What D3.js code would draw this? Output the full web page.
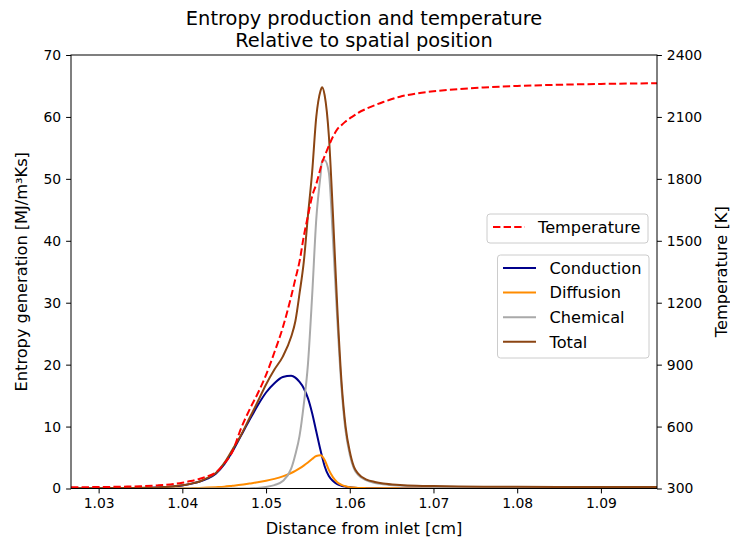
<!DOCTYPE html>
<html>
<head>
<meta charset="utf-8">
<script src="https://cdn.jsdelivr.net/npm/d3@7"></script>
<style>
  html, body { margin: 0; padding: 0; background: #fff; }
  svg text { font-family: "DejaVu Sans", sans-serif; fill: #000; }
</style>
</head>
<body>
<svg id="chart" width="730" height="539"></svg>
<script>
// Position along the reactor [cm]
const position = [1.0267, 1.030, 1.033, 1.035, 1.037, 1.039, 1.040, 1.041, 1.042, 1.043,
  1.044, 1.045, 1.046, 1.047, 1.048, 1.049, 1.050, 1.051, 1.052, 1.053,
  1.0535, 1.054, 1.0545, 1.055, 1.0555, 1.056, 1.0565, 1.0567, 1.057, 1.0575,
  1.058, 1.0585, 1.059, 1.0595, 1.060, 1.0605, 1.061, 1.062, 1.063, 1.064,
  1.066, 1.068, 1.070, 1.073, 1.076, 1.080, 1.085, 1.090, 1.0967];

// Entropy generation contributions [MJ/m³Ks]
const conduction = [0.02, 0.03, 0.05, 0.08, 0.15, 0.33, 0.5, 0.75, 1.1, 1.6,
  2.4, 3.9, 6.0, 8.5, 11.0, 13.4, 15.5, 17.0, 18.0, 18.2,
  17.9, 17.2, 16.2, 14.6, 12.2, 9.2, 6.2, 5.1, 3.6, 2.0,
  1.2, 0.7, 0.45, 0.3, 0.2, 0.13, 0.09, 0.05, 0.03, 0.02,
  0.01, 0.01, 0.0, 0.0, 0.0, 0.0, 0.0, 0.0, 0.0];

const diffusion = [0.0, 0.0, 0.0, 0.0, 0.01, 0.02, 0.04, 0.06, 0.1, 0.15,
  0.22, 0.3, 0.45, 0.6, 0.8, 1.0, 1.25, 1.55, 1.95, 2.5,
  2.85, 3.25, 3.7, 4.2, 4.75, 5.25, 5.35, 5.2, 4.6, 3.0,
  1.8, 1.0, 0.6, 0.35, 0.22, 0.15, 0.1, 0.06, 0.04, 0.03,
  0.02, 0.02, 0.01, 0.01, 0.01, 0.0, 0.0, 0.0, 0.0];

const chemical = [0.0, 0.0, 0.0, 0.0, 0.0, 0.0, 0.0, 0.0, 0.0, 0.0,
  0.0, 0.0, 0.0, 0.0, 0.02, 0.08, 0.25, 0.55, 1.2, 3.2,
  5.5, 8.5, 13.5, 20.0, 31.0, 43.5, 50.5, 53.0, 53.0, 51.0,
  40.0, 27.5, 16.5, 9.3, 5.5, 3.2, 2.2, 1.3, 0.9, 0.7,
  0.48, 0.36, 0.3, 0.24, 0.2, 0.18, 0.16, 0.15, 0.14];

const total = [0.05, 0.06, 0.08, 0.1, 0.17, 0.37, 0.52, 0.77, 1.1, 1.7,
  2.5, 4.1, 6.3, 8.6, 11.3, 14.0, 16.8, 19.2, 21.3, 24.5,
  27.0, 31.5, 36.5, 44.0, 51.0, 60.0, 64.2, 64.8, 63.5, 57.0,
  44.0, 29.5, 17.5, 10.0, 6.0, 3.5, 2.4, 1.45, 1.05, 0.8,
  0.58, 0.46, 0.4, 0.34, 0.3, 0.27, 0.25, 0.24, 0.23];

// Gas temperature [K]
const temperature = [306, 307, 309, 311, 315, 322, 328, 336, 346, 359,
  378, 420, 480, 590, 680, 760, 850, 960, 1080, 1230,
  1315, 1400, 1520, 1620, 1715, 1775, 1850, 1880, 1910, 1960,
  2005, 2040, 2060, 2078, 2093, 2106, 2120, 2140, 2157, 2172,
  2198, 2214, 2224, 2235, 2243, 2250, 2256, 2260, 2263];

const xTicks = [1.03, 1.04, 1.05, 1.06, 1.07, 1.08, 1.09];
const leftTicks = [0, 10, 20, 30, 40, 50, 60, 70];
const rightTicks = [300, 600, 900, 1200, 1500, 1800, 2100, 2400];

const entropySeries = [
  { name: "Conduction", values: conduction, color: "#00008b" },
  { name: "Diffusion", values: diffusion, color: "#ff8c00" },
  { name: "Chemical", values: chemical, color: "#a9a9a9" },
  { name: "Total", values: total, color: "#8b4513" }
];

const svg = d3.select("#chart");
const plot = { left: 71, right: 657, top: 55, bottom: 488.5 };

const x = d3.scaleLinear().domain([1.0267, 1.0967]).range([plot.left, plot.right]);
const yS = d3.scaleLinear().domain([0, 70]).range([plot.bottom, plot.top]);
const yT = d3.scaleLinear().domain([300, 2400]).range([plot.bottom, plot.top]);

svg.append("clipPath").attr("id", "plot-clip")
  .append("rect")
  .attr("x", plot.left).attr("y", plot.top)
  .attr("width", plot.right - plot.left).attr("height", plot.bottom - plot.top);

const lines = svg.append("g").attr("clip-path", "url(#plot-clip)");

entropySeries.forEach(s => {
  const line = d3.line()
    .x((d, i) => x(position[i]))
    .y(d => yS(d))
    .curve(d3.curveMonotoneX);
  lines.append("path")
    .datum(s.values)
    .attr("d", line)
    .attr("fill", "none")
    .attr("stroke", s.color)
    .attr("stroke-width", 2)
    .attr("stroke-linejoin", "round");
});

const tLine = d3.line()
  .x((d, i) => x(position[i]))
  .y(d => yT(d))
  .curve(d3.curveMonotoneX);
lines.append("path")
  .datum(temperature)
  .attr("d", tLine)
  .attr("fill", "none")
  .attr("stroke", "#ff0000")
  .attr("stroke-width", 2)
  .attr("stroke-dasharray", "7.4,3.2");

// Axes
const fmtX = d3.format(".2f");
const xAxis = svg.append("g")
  .attr("transform", `translate(0,${plot.bottom})`)
  .call(d3.axisBottom(x).tickValues(xTicks).tickFormat(fmtX).tickSize(4.9).tickPadding(4.9));
const yAxisL = svg.append("g")
  .attr("transform", `translate(${plot.left},0)`)
  .call(d3.axisLeft(yS).tickValues(leftTicks).tickFormat(d3.format("d")).tickSize(4.9).tickPadding(4.9));
const yAxisR = svg.append("g")
  .attr("transform", `translate(${plot.right},0)`)
  .call(d3.axisRight(yT).tickValues(rightTicks).tickFormat(d3.format("d")).tickSize(4.9).tickPadding(4.9));

[xAxis, yAxisL, yAxisR].forEach(g => {
  g.select(".domain").remove();
  g.selectAll(".tick line").attr("stroke", "#000").attr("stroke-width", 1);
  g.selectAll(".tick text").attr("font-size", 13.9).attr("fill", "#000")
    .attr("font-family", "DejaVu Sans, sans-serif");
});

// Frame
svg.append("rect")
  .attr("x", plot.left).attr("y", plot.top)
  .attr("width", plot.right - plot.left).attr("height", plot.bottom - plot.top)
  .attr("fill", "none").attr("stroke", "#000").attr("stroke-width", 1);

// Titles and labels
svg.append("text").attr("x", 364).attr("y", 25).attr("text-anchor", "middle")
  .attr("font-size", 19.4).text("Entropy production and temperature");
svg.append("text").attr("x", 364).attr("y", 47).attr("text-anchor", "middle")
  .attr("font-size", 19.4).text("Relative to spatial position");

svg.append("text").attr("x", 364).attr("y", 534).attr("text-anchor", "middle")
  .attr("font-size", 16.2).text("Distance from inlet [cm]");

svg.append("text")
  .attr("transform", `translate(27,${(plot.top + plot.bottom) / 2}) rotate(-90)`)
  .attr("text-anchor", "middle").attr("font-size", 16.2)
  .text("Entropy generation [MJ/m³Ks]");

svg.append("text")
  .attr("transform", `translate(727,${(plot.top + plot.bottom) / 2}) rotate(-90)`)
  .attr("text-anchor", "middle").attr("font-size", 16.2)
  .text("Temperature [K]");

// Legends
function legendBox(x0, y0, w, h) {
  svg.append("rect")
    .attr("x", x0).attr("y", y0).attr("width", w).attr("height", h)
    .attr("rx", 3).attr("ry", 3)
    .attr("fill", "#fff").attr("fill-opacity", 0.8)
    .attr("stroke", "#cccccc").attr("stroke-width", 1);
}

legendBox(487, 214, 161, 29);
svg.append("line")
  .attr("x1", 493).attr("x2", 525).attr("y1", 227).attr("y2", 227)
  .attr("stroke", "#ff0000").attr("stroke-width", 2).attr("stroke-dasharray", "7.4,3.2");
svg.append("text").attr("x", 538).attr("y", 233).attr("font-size", 16.2).text("Temperature");

legendBox(497.5, 255, 151.5, 103);
entropySeries.forEach((s, i) => {
  const yy = 268 + i * 24.6;
  svg.append("line")
    .attr("x1", 503).attr("x2", 536).attr("y1", yy).attr("y2", yy)
    .attr("stroke", s.color).attr("stroke-width", 2);
  svg.append("text").attr("x", 549.5).attr("y", yy + 5.8).attr("font-size", 16.2).text(s.name);
});
</script>
</body>
</html>
